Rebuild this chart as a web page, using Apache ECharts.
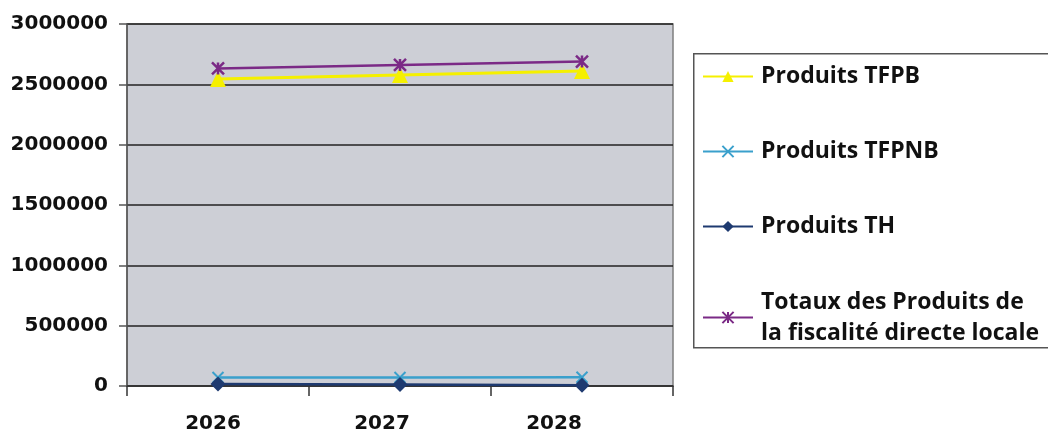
<!DOCTYPE html>
<html><head><meta charset="utf-8">
<script src="https://cdn.jsdelivr.net/npm/echarts@6/dist/echarts.min.js"></script>
<style>html,body{margin:0;padding:0;background:#fff}#c{width:1048px;height:437px}</style>
</head><body><div id="c"></div>
<script>
const years = ['2026', '2027', '2028'];
const seriesNames = ['Produits TFPB', 'Produits TFPNB', 'Produits TH', 'Totaux des Produits de la fiscalité directe locale'];
const tfpb = [2545000, 2578000, 2611000];
const tfpnb = [70000, 71000, 72000];
const th = [17000, 12000, 6000];
const totaux = [2632000, 2661000, 2689000];
const yTicks = [0, 500000, 1000000, 1500000, 2000000, 2500000, 3000000];

const xPath = 'path://M0,0 L10,10 M10,0 L0,10';
const starPath = 'path://M0,0 L10,10 M10,0 L0,10 M5,0 L5,10';

const chart = echarts.init(document.getElementById('c'));
const legendFont = { fontFamily: 'Open Sans', fontWeight: 'bold', fontSize: 23, color: '#111' };
function leg(name, top, extra) {
  return Object.assign({
    data: [name], left: 702, top: top, orient: 'vertical', padding: 0,
    itemWidth: 50, itemHeight: 14, itemGap: 0, selectedMode: false,
    textStyle: Object.assign({}, legendFont, { padding: [0, 0, 0, 3] })
  }, extra || {});
}
const axisFont = { fontFamily: 'DejaVu Sans', fontWeight: 'bold', fontSize: 20, color: '#111' };
chart.setOption({
  animation: false,
  backgroundColor: '#ffffff',
  graphic: [{
    type: 'rect', left: 693, top: 53, z: -1,
    shape: { width: 400, height: 294 },
    style: { fill: '#ffffff', stroke: '#555', lineWidth: 1.5 }
  }],
  legend: [
    leg(seriesNames[0], 65),
    leg(seriesNames[1], 140),
    leg(seriesNames[2], 215),
    leg(seriesNames[3], 271, {
      formatter: function () { return 'Totaux des Produits de\nla fiscalité directe locale'; },
      textStyle: Object.assign({}, legendFont, { lineHeight: 31, padding: [31, 0, 0, 3] })
    })
  ],
  grid: { left: 127, right: 375, top: 24, bottom: 51, show: true, backgroundColor: '#CDCFD6', borderColor: '#7f7f7f', borderWidth: 1.5 },
  xAxis: {
    type: 'category', data: years, boundaryGap: true,
    axisLine: { lineStyle: { color: '#333', width: 1.5 } },
    axisTick: { show: true, length: 10, lineStyle: { color: '#333', width: 1.5 } },
    axisLabel: {
      margin: 28,
      formatter: function (v, i) { return '{l' + i + '|' + v + '}'; },
      rich: {
        l0: Object.assign({}, axisFont, { padding: [0, 10, 0, 0] }),
        l1: Object.assign({}, axisFont, { padding: [0, 36, 0, 0] }),
        l2: Object.assign({}, axisFont, { padding: [0, 56, 0, 0] })
      }
    }
  },
  yAxis: {
    type: 'value', min: yTicks[0], max: yTicks[yTicks.length - 1], interval: yTicks[1] - yTicks[0],
    axisLine: { show: true, lineStyle: { color: '#555', width: 1.5 } },
    axisTick: { show: true, length: 8, lineStyle: { color: '#555', width: 1.5 } },
    splitLine: { lineStyle: { color: '#222', width: 1.5 } },
    axisLabel: Object.assign({ margin: 19, formatter: function (v) { return String(v); } }, axisFont)
  },
  series: [
    { name: seriesNames[0], type: 'line', data: tfpb, symbol: 'triangle', symbolSize: 16,
      lineStyle: { color: '#F5F000', width: 3 }, itemStyle: { color: '#F5F000' }, z: 3 },
    { name: seriesNames[1], type: 'line', data: tfpnb, symbol: xPath, symbolSize: 11,
      lineStyle: { color: '#3AA0CC', width: 2.5 }, itemStyle: { color: '#3AA0CC', borderColor: '#3AA0CC', borderWidth: 2 }, z: 3 },
    { name: seriesNames[2], type: 'line', data: th, symbol: 'diamond', symbolSize: 15,
      lineStyle: { color: '#1E3A70', width: 2.5 }, itemStyle: { color: '#1E3A70' }, z: 4 },
    { name: seriesNames[3], type: 'line', data: totaux, symbol: starPath, symbolSize: 12,
      lineStyle: { color: '#7B2A86', width: 2.5 }, itemStyle: { color: '#7B2A86', borderColor: '#7B2A86', borderWidth: 2.5 }, z: 4 }
  ]
});
</script></body></html>
